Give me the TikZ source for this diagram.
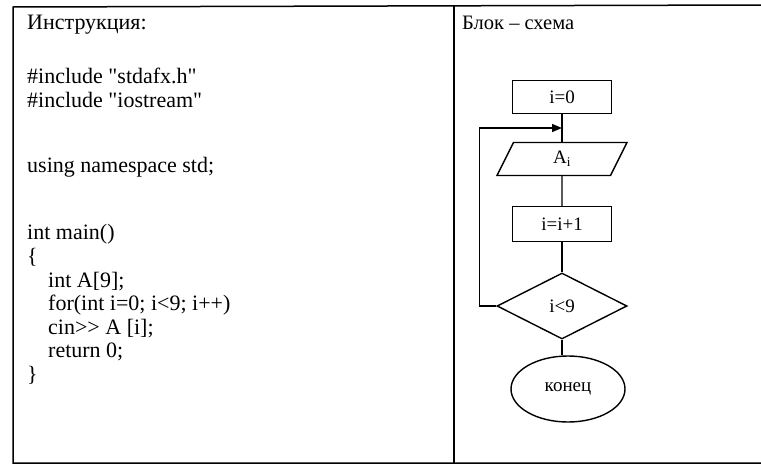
\documentclass[tikz,border=0pt]{standalone}
\usepackage{fontspec}
\setmainfont{Liberation Serif}
% no TeX ligatures here, so " and >> stay as typed
\newfontfamily\kodfont{Liberation Serif}
\usetikzlibrary{arrows.meta,shapes.geometric}

\tikzset{
        kod/.style={anchor=base west, inner sep=0pt, font=\kodfont\fontsize{22}{25}\selectfont},
        blok/.style={draw, line width=1.4pt, rectangle, minimum width=99pt,
                minimum height=33pt, inner sep=0pt, font=\kodfont\fontsize{19}{21}\selectfont},
        vvod/.style={draw, line width=1.4pt, trapezium, trapezium left angle=43,
                trapezium right angle=137, trapezium stretches body,
                minimum width=130pt, minimum height=33pt, inner sep=0pt,
                font=\fontsize{19}{21}\selectfont},
        uslovie/.style={draw, line width=1.4pt, diamond, minimum width=130pt,
                minimum height=66pt, inner sep=0pt, font=\kodfont\fontsize{19}{21}\selectfont},
        konec/.style={draw, line width=1.4pt, ellipse, minimum width=114pt,
                minimum height=66pt, inner sep=0pt, font=\fontsize{19}{21}\selectfont},
        liniya/.style={line width=1.4pt}
}

\begin{document}
\begin{tikzpicture}[x=1pt, y=-1pt]
        \useasboundingbox (0,0) rectangle (761,466);

        % table frame
        \draw[line width=1.5pt] (761,5) -- (13,7) -- (13,463) -- (761,463);
        \draw[line width=1.5pt] (454,6) -- (454,463);

        % left column
        \node[kod] (instr) at (27,29) {Инструкция:};
        \node[kod] (inc1) at (27,83) {\#include "stdafx.h"};
        \node[kod] (inc2) at (27,107) {\#include "iostream"};
        \node[kod] (ns) at (27,172) {using namespace std;};
        \node[kod] (mn) at (27,239) {int main()};
        \node[kod] (ob) at (27,263) {\{};
        \node[kod] (arr) at (48,287) {int A[9];};
        \node[kod] (cyc) at (48,310) {for(int i=0; i<9; i++)};
        \node[kod] (cin) at (48,334) {cin>> A [i];};
        \node[kod] (ret) at (48,357) {return 0;};
        \node[kod] (cb) at (27,381) {\}};

        % right column
        \node[kod, font=\fontsize{20.5}{24}\selectfont] (blk) at (462,29) {Блок -- схема};

        \node[blok] (i0) at (562,97) {i=0};
        \coordinate (vh) at (562,128);
        \node[vvod] (Ai) at (562,159) {A\textsubscript{i}};
        \node[blok, minimum height=35pt] (inc) at (562,224) {i=i+1};
        \node[uslovie] (cond) at (562,306) {i<9};
        \node[konec] (kon) at (568,389) {конец};

        \draw[liniya] (i0) -- (Ai);
        \draw[liniya] (Ai) -- (inc);
        \draw[liniya] (inc) -- (cond);
        \draw[liniya] (cond.south) -- (cond.south |- kon.north);
        \draw[liniya, -{Triangle[length=10pt, width=8pt]}] (cond.west) -- ++(-17,0) |- (vh);
\end{tikzpicture}
\end{document}
